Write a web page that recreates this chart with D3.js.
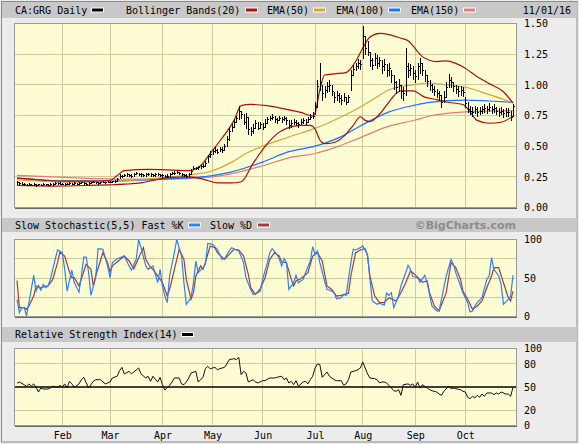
<!DOCTYPE html>
<html>
<head>
<meta charset="utf-8">
<script src="https://cdn.jsdelivr.net/npm/d3@7"></script>
<style>
body { margin: 0; background: #ececec; }
svg { display: block; }
text { font-family: "DejaVu Sans Mono", monospace; font-size: 10px; fill: #000; }
</style>
</head>
<body>
<script>
// trading day index 0 = Jan 5 2016, 208 = Nov 1 2016
const months = ['Feb', 'Mar', 'Apr', 'May', 'Jun', 'Jul', 'Aug', 'Sep', 'Oct']
const monthStart = [19, 39, 61, 82, 103, 125, 145, 167, 188]

const close = [
  0.205,0.200,0.195,0.190,0.185,0.190,0.185,0.195,0.185,0.190,0.185,0.190,0.190,0.185,0.190,0.195,0.200,0.200,0.195,
  0.195,0.190,0.195,0.200,0.195,0.200,0.195,0.200,0.205,0.200,0.195,0.200,0.205,0.210,0.205,0.200,0.205,0.210,0.205,0.210,
  0.210,0.215,0.220,0.235,0.260,0.255,0.265,0.270,0.265,0.260,0.275,0.280,0.275,0.270,0.265,0.270,0.275,0.270,0.265,0.270,0.275,0.265,
  0.262,0.255,0.260,0.270,0.280,0.285,0.290,0.280,0.270,0.265,0.260,0.270,0.300,0.325,0.320,0.330,0.335,0.340,0.360,0.420,0.440,
  0.460,0.470,0.455,0.480,0.470,0.500,0.560,0.620,0.660,0.700,0.730,0.790,0.760,0.700,0.740,0.640,0.620,0.650,0.690,0.650,0.680,
  0.66,0.69,0.72,0.73,0.74,0.72,0.71,0.73,0.72,0.73,0.71,0.67,0.69,0.70,0.69,0.68,0.70,0.71,0.70,0.72,0.74,0.75,
  0.83,0.99,1.02,0.93,0.96,0.99,1.00,0.95,0.90,0.92,0.89,0.88,0.90,0.86,0.90,1.08,1.13,1.15,1.18,1.17,
  1.40,1.30,1.27,1.20,1.16,1.22,1.18,1.20,1.15,1.17,1.12,1.14,1.08,1.02,0.98,1.00,0.95,0.93,1.15,1.12,1.14,1.10,
  1.07,1.15,1.18,1.12,1.08,1.03,1.00,0.97,0.95,0.93,0.92,0.86,0.90,0.98,1.04,1.02,0.99,0.97,0.95,0.96,0.94,
  0.85,0.80,0.79,0.78,0.80,0.78,0.79,0.80,0.81,0.80,0.82,0.80,0.81,0.79,0.78,0.79,0.77,0.78,0.78,0.74,
  0.83
]
const high = [
  0.215,0.210,0.205,0.200,0.195,0.200,0.195,0.200,0.195,0.195,0.195,0.200,0.195,0.195,0.200,0.200,0.205,0.205,0.205,
  0.200,0.200,0.200,0.205,0.200,0.205,0.200,0.205,0.210,0.205,0.200,0.205,0.210,0.215,0.210,0.205,0.210,0.215,0.210,0.215,
  0.215,0.220,0.225,0.240,0.270,0.265,0.275,0.285,0.275,0.270,0.285,0.290,0.285,0.280,0.275,0.280,0.285,0.280,0.275,0.280,0.285,0.275,
  0.270,0.265,0.270,0.280,0.290,0.295,0.300,0.290,0.280,0.275,0.270,0.280,0.310,0.340,0.330,0.340,0.345,0.355,0.380,0.430,0.460,
  0.480,0.490,0.475,0.495,0.490,0.520,0.580,0.650,0.680,0.720,0.750,0.830,0.790,0.760,0.770,0.740,0.660,0.680,0.710,0.700,0.700,
  0.69,0.72,0.74,0.75,0.76,0.75,0.73,0.75,0.74,0.75,0.74,0.71,0.71,0.72,0.71,0.70,0.72,0.73,0.72,0.74,0.76,0.78,
  0.86,1.04,1.18,1.00,0.99,1.02,1.04,1.00,0.94,0.95,0.93,0.92,0.93,0.90,0.92,1.12,1.16,1.18,1.21,1.20,
  1.48,1.40,1.36,1.27,1.22,1.26,1.24,1.23,1.20,1.21,1.17,1.18,1.12,1.08,1.03,1.05,1.00,0.98,1.30,1.18,1.17,1.15,
  1.12,1.18,1.22,1.18,1.12,1.08,1.04,1.01,0.99,0.97,0.95,0.92,0.95,1.02,1.09,1.06,1.02,1.00,0.99,0.99,0.98,
  0.90,0.86,0.83,0.82,0.83,0.82,0.82,0.83,0.84,0.83,0.85,0.83,0.84,0.82,0.81,0.82,0.80,0.81,0.81,0.79,
  0.84
]
const low = [
  0.195,0.195,0.190,0.185,0.180,0.185,0.180,0.180,0.175,0.180,0.180,0.180,0.185,0.180,0.180,0.185,0.190,0.190,0.190,
  0.190,0.185,0.190,0.195,0.190,0.195,0.190,0.195,0.200,0.195,0.190,0.195,0.200,0.205,0.200,0.195,0.200,0.205,0.200,0.205,
  0.205,0.205,0.210,0.220,0.240,0.245,0.255,0.260,0.255,0.250,0.260,0.270,0.265,0.260,0.255,0.260,0.265,0.260,0.255,0.260,0.265,0.255,
  0.250,0.245,0.250,0.260,0.270,0.275,0.280,0.270,0.260,0.255,0.250,0.260,0.275,0.310,0.310,0.315,0.320,0.330,0.340,0.370,0.410,
  0.440,0.450,0.445,0.460,0.455,0.470,0.500,0.550,0.620,0.660,0.700,0.720,0.730,0.680,0.650,0.600,0.590,0.610,0.650,0.640,0.650,
  0.64,0.66,0.69,0.71,0.72,0.70,0.69,0.71,0.70,0.71,0.68,0.65,0.66,0.68,0.67,0.66,0.68,0.69,0.68,0.70,0.72,0.73,
  0.76,0.82,0.96,0.88,0.90,0.94,0.95,0.92,0.86,0.88,0.86,0.84,0.87,0.84,0.86,0.96,1.08,1.12,1.14,1.13,
  1.22,1.25,1.24,1.15,1.13,1.16,1.14,1.15,1.10,1.12,1.07,1.08,1.02,0.97,0.93,0.95,0.89,0.88,0.92,1.06,1.08,1.05,
  1.02,1.05,1.10,1.08,1.03,0.99,0.96,0.94,0.92,0.90,0.88,0.82,0.86,0.90,0.98,0.98,0.95,0.93,0.91,0.92,0.91,
  0.82,0.78,0.76,0.75,0.77,0.75,0.76,0.77,0.78,0.77,0.79,0.77,0.78,0.76,0.75,0.76,0.74,0.75,0.75,0.71,
  0.75
]

// indicator lines as [day, value]
const bbUpper = [[0,0.24],[10,0.225],[20,0.215],[30,0.215],[39,0.22],[42,0.26],[45,0.30],[55,0.31],[65,0.305],[72,0.30],[77,0.34],[81,0.44],[85,0.54],[91,0.71],[94,0.83],[98,0.84],[105,0.83],[113,0.80],[119,0.775],[124,0.745],[125,0.77],[127,0.96],[129,1.08],[133,1.09],[138,1.10],[142,1.19],[145,1.30],[148,1.39],[152,1.42],[156,1.41],[161,1.38],[164,1.36],[166,1.32],[168,1.27],[170,1.23],[176,1.19],[180,1.196],[184,1.175],[187,1.147],[193,1.066],[198,1.01],[204,0.944],[208,0.85]]
const bbLower = [[0,0.18],[15,0.175],[30,0.18],[39,0.185],[45,0.19],[52,0.20],[58,0.225],[65,0.245],[72,0.25],[76,0.24],[80,0.22],[84,0.20],[90,0.20],[94,0.21],[99,0.36],[105,0.52],[109,0.60],[113,0.645],[119,0.67],[123,0.67],[125,0.64],[127,0.55],[129,0.52],[133,0.53],[137,0.58],[141,0.67],[144,0.74],[146,0.71],[148,0.70],[152,0.76],[156,0.86],[159,0.93],[161,0.95],[166,0.95],[171,0.90],[176,0.88],[180,0.86],[187,0.84],[190,0.78],[193,0.71],[198,0.687],[203,0.695],[208,0.745]]
const ema50 = [[0,0.225],[10,0.215],[25,0.205],[40,0.21],[50,0.225],[61,0.245],[72,0.265],[82,0.30],[90,0.37],[96,0.44],[103,0.50],[114,0.575],[125,0.645],[135,0.73],[144,0.82],[150,0.89],[156,0.96],[166,1.0],[172,1.015],[180,1.0],[188,0.98],[198,0.92],[208,0.855]]
const ema100 = [[0,0.24],[18,0.218],[39,0.215],[60,0.23],[82,0.26],[90,0.29],[103,0.37],[114,0.455],[125,0.50],[135,0.57],[144,0.665],[156,0.78],[167,0.835],[173,0.857],[188,0.876],[198,0.868],[208,0.857]]
const ema150 = [[0,0.262],[20,0.245],[40,0.232],[61,0.23],[82,0.25],[103,0.34],[114,0.405],[125,0.44],[135,0.50],[144,0.57],[156,0.663],[167,0.713],[173,0.746],[188,0.78],[198,0.787],[208,0.79]]

const stochK = [[0,22],[1,5],[2,11.5],[3,11.5],[4,1],[5,18],[7,53.5],[8,33],[9,40.4],[10,34],[11,41.7],[12,37.4],[13,39.6],[14,48.2],[16,74.2],[17,86.4],[19,82.9],[20,61.3],[21,33],[23,60.4],[24,44],[26,31.8],[27,52.6],[28,77],[29,77],[30,57.8],[31,27.5],[33,50.4],[34,88],[36,87.3],[38,65.7],[39,50.4],[40,70],[42,75],[45,78.5],[47,65.7],[48,60.4],[50,74.2],[51,100],[52,89.4],[54,65.7],[55,61.3],[57,65.7],[59,44],[60,61.3],[61,39.6],[62,26.6],[63,18],[64,52.6],[66,83],[67,100],[69,78.5],[70,44],[71,15.8],[73,24.5],[74,44],[75,72],[76,57],[78,63.4],[79,67.7],[80,95],[82,93.7],[84,87.3],[86,74.2],[87,75],[89,85],[90,89.4],[92,86.4],[93,85],[95,70],[96,50.4],[98,35.2],[99,28.7],[101,30.8],[102,33],[103,48.2],[105,69.9],[106,82.9],[107,88.1],[109,80.7],[110,74.2],[111,65.7],[112,75],[113,69.9],[114,35.2],[116,43.9],[117,53.5],[118,43.9],[120,48.2],[121,56.9],[123,72.1],[124,90.7],[125,80.7],[126,85],[127,69.9],[129,46.1],[130,35.2],[131,34.4],[133,30.9],[134,23.1],[136,24.5],[137,28.8],[138,27.5],[140,69.9],[141,87.3],[142,86.4],[144,89.4],[145,91.6],[147,80.7],[148,48.2],[149,20.1],[151,15.8],[152,17.2],[154,14.6],[155,30.2],[156,27.5],[157,30.9],[158,11.5],[160,26.6],[161,39.6],[163,56.9],[164,66.4],[165,61.3],[166,51.8],[168,50.4],[169,44.8],[171,53.5],[172,43.9],[173,28.8],[174,13.7],[176,7.2],[177,7.2],[178,22.3],[180,52.6],[182,74.2],[183,67.7],[184,56.9],[186,39.6],[187,30.9],[189,18],[190,5.9],[191,7.2],[192,13.7],[193,18],[195,24.5],[197,48.2],[198,52.6],[199,76.4],[200,61.3],[202,52.6],[203,41.7],[204,15.8],[206,22.3],[207,26.6],[208,53.5]]
const stochD = [[0,46.6],[1,11.5],[3,11.5],[4,9.3],[5,13.6],[7,26.6],[8,39.6],[10,36.8],[12,39.6],[13,39.6],[15,48.2],[17,69.9],[18,83.7],[20,78.5],[22,57.8],[23,50.4],[24,50.4],[26,39.6],[29,67.7],[31,61.3],[32,39.6],[33,52.6],[36,82.9],[38,69.9],[39,57.8],[40,65.7],[43,73.4],[45,78.5],[47,72.1],[49,62.2],[52,82.9],[53,89.4],[54,74.2],[56,63.4],[57,61.3],[60,48.2],[61,43.9],[63,26.6],[64,35.2],[66,61.3],[68,87.3],[70,74.2],[71,48.2],[73,22.3],[74,30.9],[75,52.6],[77,65.7],[78,61.3],[79,69.9],[81,91.6],[83,89.4],[84,82.9],[87,74.2],[89,80.7],[91,87.3],[93,86.4],[95,78.5],[97,54.8],[98,37.4],[100,28.7],[102,36],[104,50],[106,74.2],[108,82.9],[110,78.5],[111,70.8],[113,69.9],[115,48.2],[116,39.6],[117,46.1],[119,49],[122,56.9],[124,78.5],[126,82.9],[128,72.1],[130,39.6],[132,35.2],[134,26.6],[136,27.5],[139,30.2],[140,52.6],[142,82.9],[144,86.4],[146,88.1],[147,78.5],[148,52.6],[150,26.6],[152,18],[154,18],[156,24.5],[159,20.1],[161,30.9],[163,43.9],[165,59.1],[166,56.9],[169,48.2],[170,44.8],[172,46.1],[173,30.9],[175,13.7],[177,7.2],[180,30.9],[182,69.9],[184,63.4],[186,48.2],[187,33],[189,22.3],[191,9.3],[193,13.7],[195,20.1],[197,37.4],[199,52.6],[200,63.4],[202,63.4],[204,43.9],[206,24.5],[207,20.1],[208,33]]

const rsi = [[0,55],[1,56.5],[3,53],[4,51],[5,54],[6,51],[7,54],[8,49.6],[9,43.5],[10,48.7],[11,47.4],[13,47.4],[14,48.7],[15,51],[17,49.6],[18,52.2],[19,49.6],[20,54],[21,48.7],[22,57.4],[23,54],[24,49.6],[26,54],[27,59.5],[28,62.6],[30,48.7],[32,57.4],[33,59.5],[35,59.5],[37,54],[38,55.2],[39,56.5],[40,61.7],[42,64],[43,71.2],[44,75.5],[45,67],[47,70.3],[48,67],[49,69.5],[51,74.7],[52,67],[54,61.7],[55,64],[56,57.4],[57,64],[59,56.5],[60,62.6],[61,53],[62,46],[64,52.2],[65,56.5],[66,61.7],[68,61.7],[69,54],[70,53],[71,56.5],[72,61.7],[73,68.2],[75,70.3],[76,56.5],[78,62.6],[79,73.8],[80,76.8],[81,73.8],[83,75.5],[84,72.5],[85,73.8],[87,75.5],[88,80],[89,85.5],[91,86.8],[92,85.5],[93,88.5],[94,66],[95,70.3],[96,68.2],[97,56.5],[99,59.5],[100,56.5],[101,55.2],[103,58.2],[104,58.2],[106,61.7],[108,61.7],[109,62.6],[111,64],[112,59.5],[113,61.7],[114,55.2],[115,57.4],[116,53],[117,58.2],[118,51],[120,56.5],[121,57.4],[122,54],[123,59.5],[124,64],[125,74.7],[126,80],[127,79],[128,62.6],[129,66],[130,69.5],[131,64],[133,59.5],[134,58.2],[136,58.2],[137,52.2],[138,54],[139,59.5],[140,69.5],[142,71.2],[143,72.5],[144,74.7],[145,82.5],[146,74.7],[147,67],[148,61.7],[150,60.8],[151,59.5],[152,55.2],[153,56.5],[154,56.5],[155,55.2],[157,48.7],[158,45.2],[159,44.4],[160,46.5],[161,39.2],[162,53],[164,54],[165,52.2],[166,54],[167,49.6],[168,56.5],[169,48.7],[170,53],[171,51],[172,48.7],[173,46.5],[174,45.2],[176,43.5],[177,40.9],[178,39.2],[179,44.4],[181,51],[182,47.8],[183,48.7],[184,47.8],[186,46.5],[187,44.4],[188,43.5],[189,36.6],[190,34.8],[191,37.9],[192,35.7],[193,39.2],[194,36.6],[195,40.9],[196,37.9],[197,42.2],[199,42.2],[200,40],[201,42.2],[202,40.9],[203,43.5],[205,40.9],[206,40.9],[207,37.9],[208,49.6]]

const priceTicks = [0, 0.25, 0.5, 0.75, 1, 1.25, 1.5]
const stochTicks = [0, 50, 100]
const rsiTicks = [0, 20, 50, 80, 100]

const svg = d3.select('body').append('svg')
    .attr('width', 579)
    .attr('height', 444)

const L = 14.5, R = 516
const x = d3.scaleLinear().domain([0, 208]).range([17, 513])
const yP = d3.scaleLinear().domain([0, 1.5]).range([207.5, 23.5])
const yS = d3.scaleLinear().domain([0, 100]).range([316.5, 239.5])
const yR = d3.scaleLinear().domain([0, 100]).range([425.5, 348.5])

const grid = '#cdcc9a'

// outer frame + header strips
svg.append('rect').attr('x', 1.5).attr('y', 1.5).attr('width', 575.5).attr('height', 440.5)
    .attr('fill', '#ececec').attr('stroke', '#8a8a8a')
const strips = [[2, 16], [218, 14], [327, 15]]
strips.forEach(s => {
    svg.append('rect').attr('x', 2).attr('y', s[0]).attr('width', 575).attr('height', s[1]).attr('fill', '#c8c8c8')
})

function panel(y, hGrid, ticks, fmt, id) {
    let top = y.range()[1], bot = y.range()[0]
    svg.append('rect').attr('x', L).attr('y', top).attr('width', R - L).attr('height', bot - top)
        .attr('fill', '#fdfcd2')
    svg.append('clipPath').attr('id', id).append('rect')
        .attr('x', L).attr('y', top).attr('width', R - L).attr('height', bot - top)
    let g = svg.append('g').attr('shape-rendering', 'crispEdges')
    g.selectAll('.vg').data(monthStart).enter().append('line')
        .attr('x1', d => x(d)).attr('x2', d => x(d)).attr('y1', top).attr('y2', bot)
        .attr('stroke', grid)
    g.selectAll('.hg').data(hGrid).enter().append('line')
        .attr('x1', L).attr('x2', R).attr('y1', d => y(d)).attr('y2', d => y(d))
        .attr('stroke', grid)
    let ax = svg.append('g').attr('transform', `translate(${R},0)`)
        .call(d3.axisRight(y).tickValues(ticks).tickFormat(fmt).tickSize(0).tickPadding(8))
    ax.select('.domain').remove()
    ax.selectAll('text').attr('font-family', '"DejaVu Sans Mono", monospace').attr('font-size', 10).attr('fill', '#000')
    return svg.append('g').attr('clip-path', `url(#${id})`)
}

function frame(y) {
    let top = y.range()[1], bot = y.range()[0]
    svg.append('rect').attr('x', L).attr('y', top).attr('width', R - L).attr('height', bot - top)
        .attr('fill', 'none').attr('stroke', '#9a9a9a').attr('shape-rendering', 'crispEdges')
    svg.append('line').attr('x1', L).attr('x2', R + 1).attr('y1', bot + 1).attr('y2', bot + 1)
        .attr('stroke', '#666').attr('shape-rendering', 'crispEdges')
}

const curve = (y) => d3.line().x(d => x(d[0])).y(d => y(d[1])).curve(d3.curveMonotoneX)
const poly = (y) => d3.line().x(d => x(d[0])).y(d => y(d[1]))

// price panel
let pg = panel(yP, [0.25, 0.5, 0.75, 1, 1.25], priceTicks, d3.format('.2f'), 'cp')
const lines = [[ema150, '#e37b78'], [ema100, '#1a74ff'], [ema50, '#d9a23a'], [bbUpper, '#a8100f'], [bbLower, '#a8100f']]
lines.forEach(l => {
    pg.append('path').datum(l[0]).attr('d', curve(yP))
        .attr('fill', 'none').attr('stroke', l[1]).attr('stroke-width', 1.2)
})
let bars = pg.append('g').attr('stroke', '#000').attr('shape-rendering', 'crispEdges')
bars.selectAll('.hl').data(close).enter().append('line')
    .attr('x1', (d, i) => Math.round(x(i)) + 0.5).attr('x2', (d, i) => Math.round(x(i)) + 0.5)
    .attr('y1', (d, i) => yP(high[i])).attr('y2', (d, i) => yP(low[i]) + 1)
bars.selectAll('.cl').data(close).enter().append('line')
    .attr('x1', (d, i) => Math.round(x(i))).attr('x2', (d, i) => Math.round(x(i)) + 2)
    .attr('y1', d => Math.round(yP(d)) + 0.5).attr('y2', d => Math.round(yP(d)) + 0.5)
frame(yP)

// stochastic panel
let sg = panel(yS, [25, 50, 75], stochTicks, d3.format('d'), 'cs')
sg.append('path').datum(stochD).attr('d', poly(yS))
    .attr('fill', 'none').attr('stroke', '#a83a36').attr('stroke-width', 1.2)
sg.append('path').datum(stochK).attr('d', poly(yS))
    .attr('fill', 'none').attr('stroke', '#2a80ff').attr('stroke-width', 1.2)
frame(yS)

// RSI panel
let rg = panel(yR, [20, 80], rsiTicks, d3.format('d'), 'cr')
rg.append('line').attr('x1', L).attr('x2', R).attr('y1', yR(50)).attr('y2', yR(50))
    .attr('stroke', '#000').attr('stroke-width', 1.3)
rg.append('path').datum(rsi).attr('d', poly(yR))
    .attr('fill', 'none').attr('stroke', '#111').attr('stroke-width', 1)
frame(yR)

// month labels
let mx = svg.append('g').attr('transform', `translate(0,${yR.range()[0]})`)
    .call(d3.axisBottom(x).tickValues(monthStart).tickFormat((d, i) => months[i]).tickSize(0).tickPadding(6))
mx.select('.domain').remove()
mx.selectAll('text').attr('font-family', '"DejaVu Sans Mono", monospace').attr('font-size', 10).attr('fill', '#000')

// legends
function label(tx, ty, s, anchor) {
    svg.append('text').attr('x', tx).attr('y', ty).attr('text-anchor', anchor || 'start').text(s)
}
function swatch(sx, sy, c) {
    svg.append('rect').attr('x', sx).attr('y', sy).attr('width', 12).attr('height', 4)
        .attr('fill', c).attr('stroke', '#fff').attr('stroke-width', 1)
}
label(15, 13.5, 'CA:GRG Daily')
swatch(91.5, 8, '#000')
label(126, 13.5, 'Bollinger Bands(20)')
swatch(245.5, 8, '#a8100f')
label(267, 13.5, 'EMA(50)')
swatch(313.5, 8, '#d9a23a')
label(336, 13.5, 'EMA(100)')
swatch(388.5, 8, '#1a74ff')
label(411, 13.5, 'EMA(150)')
swatch(463.5, 8, '#e37b78')
label(571, 13.5, '11/01/16', 'end')

label(15, 228.5, 'Slow Stochastic(5,5) Fast %K')
swatch(188.5, 223, '#2a80ff')
label(210, 228.5, 'Slow %D')
swatch(257.5, 223, '#a83a36')
svg.append('text').attr('x', 516).attr('y', 229).attr('text-anchor', 'end')
    .attr('font-family', '"DejaVu Sans", sans-serif').attr('font-size', 11).attr('font-weight', 'bold')
    .style('font-family', '"DejaVu Sans", sans-serif').style('font-size', '11px').style('fill', '#8c8c8c')
    .text('©BigCharts.com')

label(15, 338, 'Relative Strength Index(14)')
swatch(181.5, 332.5, '#000')
</script>
</body>
</html>
